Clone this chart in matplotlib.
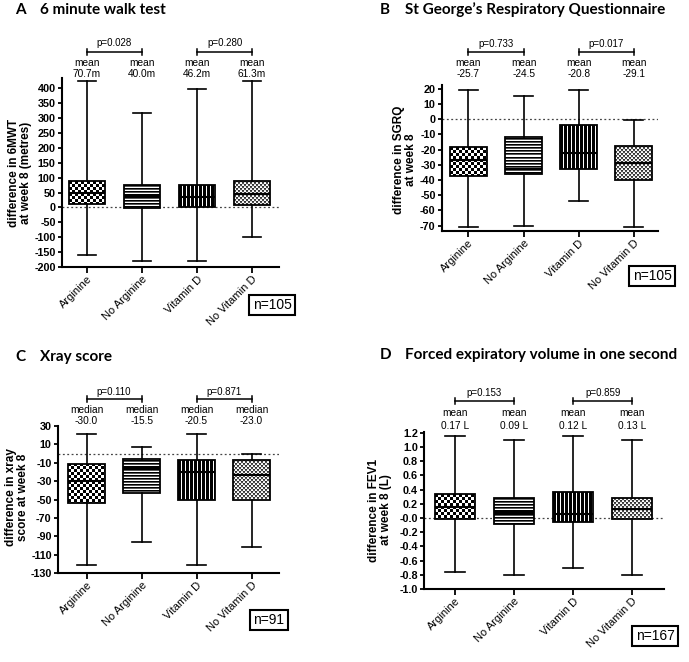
import numpy as np
import matplotlib
matplotlib.use('Agg')
import matplotlib.pyplot as plt
from matplotlib.transforms import blended_transform_factory

plt.rcParams['font.family'] = ['Liberation Sans', 'DejaVu Sans']
plt.rcParams['axes.unicode_minus'] = False

W, H = 689, 662

groups = ['Arginine', 'No Arginine', 'Vitamin D', 'No Vitamin D']

# panel A - 6MWT
a_lo = [-160, -179, -179, -98]
a_q1 = [12, -3, 0, 7]
a_med = [50, 38, 35, 46]
a_q3 = [88, 76, 76, 88]
a_hi = [424, 318, 399, 424]
a_head = ['mean', 'mean', 'mean', 'mean']
a_vals = ['70.7m', '40.0m', '46.2m', '61.3m']
a_p = ['p=0.028', 'p=0.280']
a_ticks = list(range(-200, 401, 50))

# panel B - SGRQ
b_lo = [-71, -70.5, -54, -71]
b_q1 = [-37.5, -36, -33, -40]
b_med = [-27, -33, -22.5, -29]
b_q3 = [-18.5, -12, -3.5, -17.5]
b_hi = [19, 15.5, 19, -0.5]
b_head = ['mean', 'mean', 'mean', 'mean']
b_vals = ['-25.7', '-24.5', '-20.8', '-29.1']
b_p = ['p=0.733', 'p=0.017']
b_ticks = list(range(-70, 21, 10))

# panel C - xray score
c_lo = [-121.5, -96, -121.5, -102]
c_q1 = [-54, -43, -51, -50]
c_med = [-30, -15.5, -20.5, -23]
c_q3 = [-11, -6, -6.5, -6.5]
c_hi = [21, 7, 21, 0]
c_head = ['median', 'median', 'median', 'median']
c_vals = ['-30.0', '-15.5', '-20.5', '-23.0']
c_p = ['p=0.110', 'p=0.871']
c_ticks = list(range(-130, 31, 20))

# panel D - FEV1
d_lo = [-0.76, -0.80, -0.70, -0.80]
d_q1 = [-0.01, -0.09, -0.06, -0.01]
d_med = [0.15, 0.07, 0.05, 0.12]
d_q3 = [0.34, 0.28, 0.37, 0.28]
d_hi = [1.16, 1.10, 1.16, 1.10]
d_head = ['mean', 'mean', 'mean', 'mean']
d_vals = ['0.17 L', '0.09 L', '0.12 L', '0.13 L']
d_p = ['p=0.153', 'p=0.859']
d_ticks = [round(v, 1) for v in np.arange(-1.0, 1.21, 0.2)]


def px_rect(left, top, right, bottom):
    return [left / W, 1 - bottom / H, (right - left) / W, (bottom - top) / H]


def pattern(ax, patch, x0, x1, y0, y1, kind):
    # pixel fill pattern inside the box, clipped to it
    p0 = ax.transData.transform((x0, y0))
    p1 = ax.transData.transform((x1, y1))
    w = int(round(abs(p1[0] - p0[0])))
    h = int(round(abs(p1[1] - p0[1])))
    yy, xx = np.mgrid[0:h, 0:w]
    if kind == 'check':
        grid = ((yy // 3 + xx // 3) % 2).astype(float)
    elif kind == 'fine':
        grid = ((yy // 2 + xx // 2) % 2) * 0.85 + 0.15 * ((yy % 2) == 0)
        grid = 1 - grid * 0.8
    elif kind == 'hlines':
        grid = np.choose(yy % 3, [1.0, 0.0, 0.35])
    else:
        grid = np.where((xx % 4) == 3, 1.0, 0.0)
    im = ax.imshow(grid, extent=(x0, x1, y0, y1), cmap='gray', vmin=0, vmax=1,
                   interpolation='nearest', aspect='auto', zorder=2.5)
    im.set_clip_path(patch)


def panel(fig, rect, xlim, ylim, ticks, lo, q1, med, q3, hi, head, vals, pvals,
          ylabel, ylab_xy, letter, title, title_y, title_x, ann_y, nbox, nbox_xy,
          fmt=None):
    ax = fig.add_axes(rect)
    ax.set_xlim(*xlim)
    ax.set_ylim(*ylim)
    pos = [1, 2, 3, 4]
    stats = []
    for i in range(4):
        stats.append(dict(whislo=lo[i], q1=q1[i], med=med[i], q3=q3[i], whishi=hi[i],
                          fliers=[], label=groups[i]))
    ax.axhline(0, color='#444444', lw=0.9, ls=(0, (1.5, 2)), zorder=1)
    bp = ax.bxp(stats, positions=pos, widths=0.67, capwidths=0.34, patch_artist=True,
                showfliers=False,
                boxprops=dict(facecolor='none', edgecolor='black', linewidth=1.3),
                whiskerprops=dict(color='black', linewidth=1.2),
                capprops=dict(color='black', linewidth=1.2),
                medianprops=dict(color='black', linewidth=1.5),
                zorder=3)
    ax.set_xlim(*xlim)
    ax.set_ylim(*ylim)
    kinds = ['check', 'hlines', 'vlines', 'fine']
    for i, box in enumerate(bp['boxes']):
        pattern(ax, box, pos[i] - 0.335, pos[i] + 0.335, q1[i], q3[i], kinds[i])

    for s in ['top', 'right']:
        ax.spines[s].set_visible(False)
    for s in ['left', 'bottom']:
        ax.spines[s].set_linewidth(1.5)
    ax.set_yticks(ticks)
    if fmt:
        ax.set_yticklabels([fmt % t for t in ticks])
    ax.tick_params(axis='y', width=1.3, length=3, labelsize=7.8, pad=1.5)
    ax.tick_params(axis='x', width=1.3, length=4, labelsize=8, pad=1)
    for lab in ax.get_yticklabels():
        lab.set_fontweight('bold')
    ax.set_xticks(pos)
    ax.set_xticklabels(groups, rotation=45, ha='right', rotation_mode='anchor')

    tr = blended_transform_factory(ax.transData, fig.transFigure)
    py, by, hy, vy = ann_y
    for k, (a, b) in enumerate([(1, 2), (3, 4)]):
        yb = 1 - by / H
        tk = 3.0 / H
        ax.plot([a, b], [yb, yb], transform=tr, color='black', lw=1.1, clip_on=False)
        ax.plot([a, a], [yb - tk, yb + tk], transform=tr, color='black', lw=1.1, clip_on=False)
        ax.plot([b, b], [yb - tk, yb + tk], transform=tr, color='black', lw=1.1, clip_on=False)
        ax.text((a + b) / 2, 1 - py / H, pvals[k], transform=tr, ha='center', va='center',
                fontsize=7)
    for i in range(4):
        ax.text(pos[i], 1 - hy / H, head[i], transform=tr, ha='center', va='center', fontsize=7.3)
        ax.text(pos[i], 1 - vy / H, vals[i], transform=tr, ha='center', va='center', fontsize=7.3)

    fig.text(ylab_xy[0] / W, 1 - ylab_xy[1] / H, ylabel, rotation=90, ha='center', va='center',
             fontsize=8.5, fontweight='bold', multialignment='center', linespacing=1.0)
    fig.text(title_x[0] / W, 1 - title_y / H, letter, ha='left', va='center', fontsize=11,
             fontweight='bold', family=['Lato', 'DejaVu Sans'])
    fig.text(title_x[1] / W, 1 - title_y / H, title, ha='left', va='center', fontsize=11,
             fontweight='bold', family=['Lato', 'DejaVu Sans'])
    fig.text(nbox_xy[0] / W, 1 - nbox_xy[1] / H, nbox, ha='center', va='center', fontsize=10,
             bbox=dict(boxstyle='square,pad=0.25', fc='white', ec='black', lw=1.5))
    return ax


fig = plt.figure(figsize=(W / 100, H / 100), dpi=100)

panel(fig, px_rect(62, 78, 279, 267), (0.545, 4.49), (-200, 435), a_ticks,
      a_lo, a_q1, a_med, a_q3, a_hi, a_head, a_vals, a_p,
      'difference in 6MWT\nat week 8 (metres)', (20, 173), 'A', '6 minute walk test', 10,
      (15, 40), (43, 52, 63, 74), 'n=105', (272, 305))

panel(fig, px_rect(442, 85, 658, 231), (0.52, 4.44), (-73.5, 22.5), b_ticks,
      b_lo, b_q1, b_med, b_q3, b_hi, b_head, b_vals, b_p,
      'difference in SGRQ\nat week 8', (405, 160), 'B', 'St George\u2019s Respiratory Questionnaire', 10,
      (380, 405), (44, 52, 63, 74), 'n=105', (652, 276))

panel(fig, px_rect(58, 426, 279, 573), (0.48, 4.5), (-130, 30), c_ticks,
      c_lo, c_q1, c_med, c_q3, c_hi, c_head, c_vals, c_p,
      'difference in xray\nscore at week 8', (17, 497), 'C', 'Xray score', 357,
      (15, 40), (392, 399, 410, 421), 'n=91', (269, 620))

panel(fig, px_rect(424, 432, 664, 589), (0.475, 4.54), (-1.0, 1.21), d_ticks,
      d_lo, d_q1, d_med, d_q3, d_hi, d_head, d_vals, d_p,
      'difference in FEV1\nat week 8 (L)', (380, 510), 'D', 'Forced expiratory volume in one second', 355,
      (380, 405), (393, 401, 413, 426), 'n=167', (655, 636), fmt='%.1f')

fig.savefig('out.png', dpi=100)
